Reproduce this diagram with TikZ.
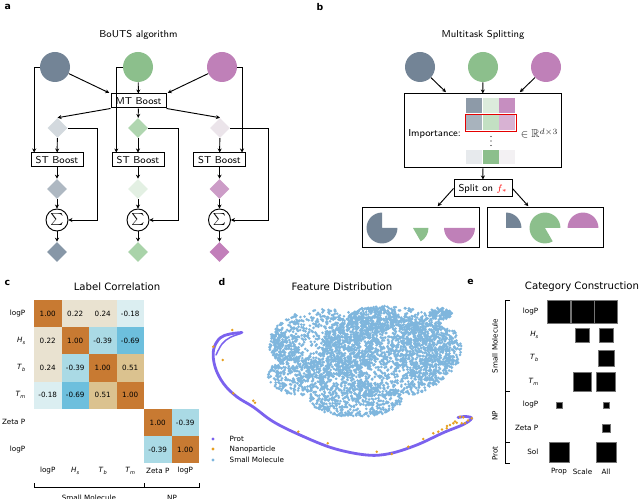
\documentclass[tikz,border=0pt]{standalone}
\usepackage{fontspec}
\usepackage{amssymb}
\usepackage{graphicx}
\usetikzlibrary{arrows.meta,shapes.geometric}
\newfontfamily\dvs{DejaVu Sans}
\definecolor{cslate}{HTML}{738496}
\definecolor{cgreen}{HTML}{8CBF8C}
\definecolor{cpurp}{HTML}{BF80B8}
\definecolor{dsa}{HTML}{D3D9DE}\definecolor{dga}{HTML}{B0D6B0}\definecolor{dpa}{HTML}{EBE4EA}
\definecolor{dsb}{HTML}{AEB8C2}\definecolor{dgb}{HTML}{E3F0E3}\definecolor{dpb}{HTML}{CC9CC7}
\definecolor{dsc}{HTML}{8797A7}\definecolor{dgc}{HTML}{A9D3A9}\definecolor{dpc}{HTML}{C27FBA}
\definecolor{imA}{HTML}{8D9AA8}\definecolor{imB}{HTML}{DCEBDC}\definecolor{imC}{HTML}{C68EC0}
\definecolor{imD}{HTML}{A8B3BD}\definecolor{imE}{HTML}{C3E0C3}\definecolor{imF}{HTML}{D8B2D3}
\definecolor{imG}{HTML}{E7EAED}\definecolor{imH}{HTML}{8CBF8C}\definecolor{imI}{HTML}{F3F1F3}
\definecolor{hmA}{HTML}{C87A32}
\definecolor{hmB}{HTML}{E9E2D0}
\definecolor{hmC}{HTML}{DBEEF1}
\definecolor{hmD}{HTML}{AADAE5}
\definecolor{hmE}{HTML}{6DBFDD}
\definecolor{hmF}{HTML}{DBC28F}
\definecolor{cprot}{HTML}{7B62EE}
\definecolor{cnano}{HTML}{E6A020}
\definecolor{csm}{HTML}{7FB6DD}
\newcommand\lab[2]{\textit{#1}\raisebox{-0.25em}{\scalebox{0.7}{\textit{#2}}}}
\begin{document}
\begin{tikzpicture}[x=0.75pt,y=-0.75pt,
  ab/.style={font=\sffamily\fontsize{7.5}{9}\selectfont},
  box/.style={draw, line width=0.75pt, inner sep=0pt, ab},
  arr/.style={-{Stealth[length=3pt,width=3pt]}, line width=0.7pt},
  ln/.style={line width=0.7pt},
  dia/.style={diamond, inner sep=0pt, minimum width=15pt, minimum height=15pt},
  sig/.style={circle, draw, line width=0.7pt, minimum size=16.5pt, inner sep=0pt, font=\fontsize{9}{10}\selectfont},
  task/.style={circle, inner sep=0pt, minimum size=22.5pt},
  plab/.style={font=\dvs\bfseries\fontsize{7}{8}\selectfont},
  mtitle/.style={font=\dvs\fontsize{7.6}{9}\selectfont},
  tick/.style={font=\dvs\fontsize{5.4}{6}\selectfont},
  cell/.style={minimum width=20.625pt, minimum height=20.4pt, inner sep=0pt, font=\dvs\fontsize{5.4}{6}\selectfont},
  hsq/.style={fill=black, draw=black!55, line width=0.5pt, inner sep=0pt}
]
\useasboundingbox (0,0) rectangle (640,499);

% ---------------- panel a ----------------
\node[plab, anchor=west] (la) at (0,7) {a};
\node[ab] (ta) at (138.5,35) {BoUTS algorithm};
\node[task, fill=cslate] (a1) at (55,67) {};
\node[task, fill=cgreen] (a2) at (138,67) {};
\node[task, fill=cpurp] (a3) at (222,67) {};
\node[box, minimum width=41.25pt, minimum height=10.5pt] (mt) at (138.5,101) {MT Boost};
\node[dia, fill=dsa] (d11) at (57.5,128) {};
\node[dia, fill=dga] (d12) at (138,128) {};
\node[dia, fill=dpa] (d13) at (220,128) {};
\node[box, minimum width=39pt, minimum height=10.5pt] (s1) at (57,160) {ST Boost};
\node[box, minimum width=39pt, minimum height=10.5pt] (s2) at (138,160) {ST Boost};
\node[box, minimum width=39pt, minimum height=10.5pt] (s3) at (219.5,160) {ST Boost};
\node[dia, fill=dsb] (d21) at (57,189) {};
\node[dia, fill=dgb] (d22) at (138,189) {};
\node[dia, fill=dpb] (d23) at (219.5,189) {};
\node[sig] (g1) at (57,220) {$\sum$};
\node[sig] (g2) at (138,220) {$\sum$};
\node[sig] (g3) at (219.5,220) {$\sum$};
\node[dia, fill=dsc] (d31) at (57,252) {};
\node[dia, fill=dgc] (d32) at (138,252) {};
\node[dia, fill=dpc] (d33) at (219.5,252) {};

\draw[arr, shorten >=1pt] (a1) -- (mt.north west);
\draw[arr] (a2) -- (mt);
\draw[arr, shorten >=1pt] (a3) -- (mt.north east);
\draw[arr] (mt.south west) -- (d11.north);
\draw[arr] (mt) -- (d12);
\draw[arr] (mt.south east) -- (d13.north);
\draw[arr] (a1.west) -| ([xshift=2.8pt]s1.north west);
\draw[arr] (a2.west) -| ([xshift=3.6pt]s2.north west);
\draw[arr] (a3.east) -| ([xshift=-3pt]s3.north east);
\foreach \i/\dx in {1/29.5,2/30,3/38.5}{
  \draw[arr] (d1\i) -- (s\i);
  \draw[arr] (s\i) -- (d2\i);
  \draw[arr] (d2\i) -- (g\i);
  \draw[arr] (g\i) -- (d3\i);
  \draw[arr] (d1\i.east) -- ++(\dx,0) |- (g\i.east);
}

% ---------------- panel b ----------------
\node[plab] (lb0) at (320,7) {b};
\node[ab] (tb) at (483,35) {Multitask Splitting};
\node[task, fill=cslate] (b1) at (420,67) {};
\node[task, fill=cgreen] (b2) at (483,67) {};
\node[task, fill=cpurp] (b3) at (546,67) {};
\node[box, minimum width=117.75pt, minimum height=55.5pt] (imp) at (482.5,131) {};
\draw[arr] (b1) -- ([xshift=-27.4pt,yshift=1pt]imp.north);
\draw[arr] (b2) -- (imp);
\draw[arr] (b3) -- ([xshift=28pt,yshift=1pt]imp.north);
\node[ab, anchor=west, inner sep=0pt] (implab) at (408,134.5) {Importance:};
\foreach \x/\y/\w/\h/\c in {466/98/16.2/15/imA, 482.6/98/16.2/15/imB, 499.2/98/16.2/15/imC,
  466/115.5/16.2/15/imD, 482.6/115.5/16.2/15/imE, 499.2/115.5/16.2/15/imF,
  466/150.5/16.2/14/imG, 482.6/150.5/16.2/14/imH, 499.2/150.5/16.2/14/imI}{
  \fill[fill=\c] (\x,\y) rectangle ++(\w,\h);
}
\draw[red!90!black, line width=0.8pt] (465.3,114.2) rectangle (516.2,131.3);
\foreach \y in {136.5,141,145.5}{\fill[black] (491,\y) circle[radius=0.55pt];}
\node[text=black!85, anchor=west, inner sep=0pt, font=\fontsize{8.5}{9}\selectfont] (rdim) at (520.5,133.5) {$\in\mathbb{R}^{d\times 3}$};
\node[box, minimum width=43.5pt, minimum height=12.75pt] (split) at (483,188.5) {Split on \textcolor{red}{$f_*$}};
\draw[arr] (imp) -- (split);
\node[box, minimum width=87.75pt, minimum height=30pt] (lbx) at (420.5,228) {};
\node[box, minimum width=87pt, minimum height=30pt] (rbx) at (545,228) {};
\draw[arr] (split.west) -- ([xshift=12.9pt,yshift=1pt]lbx.north);
\draw[arr] (split.east) -- ([xshift=-12.5pt,yshift=1pt]rbx.north);
% pies
\fill[cslate] (382,228) -- ++(90:11.6pt) arc[start angle=90,end angle=360,radius=11.6pt] -- cycle;
\fill[cgreen] (413,228) -- ++(-60:11.6pt) arc[start angle=-60,end angle=0,radius=11.6pt] -- cycle;
\fill[cpurp] (459.5,228) -- ++(180:11.6pt) arc[start angle=180,end angle=360,radius=11.6pt] -- cycle;
\fill[cslate] (506,228) -- ++(0:11.6pt) arc[start angle=0,end angle=90,radius=11.6pt] -- cycle;
\fill[cgreen] (545,228) -- ++(0:11.6pt) arc[start angle=0,end angle=300,radius=11.6pt] -- cycle;
\fill[cpurp] (583,228) -- ++(0:11.6pt) arc[start angle=0,end angle=180,radius=11.6pt] -- cycle;

% ---------------- panel c ----------------
\node[plab, anchor=west] (lc) at (0,283) {c};
\node[mtitle] (tc) at (117,287) {Label Correlation};
\foreach \r/\c/\v/\col in {0/0/1.00/hmA,0/1/0.22/hmB,0/2/0.24/hmB,0/3/-0.18/hmC,
  1/0/0.22/hmB,1/1/1.00/hmA,1/2/-0.39/hmD,1/3/-0.69/hmE,
  2/0/0.24/hmB,2/1/-0.39/hmD,2/2/1.00/hmA,2/3/0.51/hmF,
  3/0/-0.18/hmC,3/1/-0.69/hmE,3/2/0.51/hmF,3/3/1.00/hmA,
  4/4/1.00/hmA,4/5/-0.39/hmD,5/4/-0.39/hmD,5/5/1.00/hmA}{
  \node[cell, fill=\col] (hm\r\c) at ({47.75+27.5*\c},{313.6+27.2*\r}) {\v};
}
\foreach \i/\t in {0/logP,1/\lab{H}{s},2/\lab{T}{b},3/\lab{T}{m},4/Zeta P,5/logP}{
  \node[tick, anchor=east] (rl\i) at (30,{313.6+27.2*\i}) {\t};
  \node[tick] (cl\i) at ({47.75+27.5*\i},471) {\t};
}
\draw[ln] (34,483) -- (34,487) -- (199,487) -- (199,483);
\draw[ln] (144,483) -- (144,487);
\node[tick, anchor=north] (smc) at (89,490.5) {Small Molecule};
\node[tick, anchor=north] (npc) at (172,490.5) {NP};

% ---------------- panel d ----------------
\node[plab] (ld) at (222,282) {d};
\node[mtitle] (td) at (342,287) {Feature Distribution};
\pgfmathsetseed{4242}
\foreach \cx/\cy/\rx/\ry/\n in {325/343/56/34/850, 388/352/68/46/1500, 428/350/34/30/450,
  356/399/46/18/500, 300/376/32/20/350, 440/314/12/6/110, 372/320/24/13/230, 283/345/14/16/130,
  408/325/18/10/120}{
  \fill[csm] \foreach \k in {1,...,\n}{
    [/utils/exec={\pgfmathsetmacro\ang{360*rnd}\pgfmathsetmacro\rr{sqrt(rnd)}}]
    ({\cx+\rx*\rr*cos(\ang)},{\cy+\ry*\rr*sin(\ang)}) circle[radius=1.1pt]
  };
}
\draw[cprot, line width=2.1pt, line cap=round] plot[smooth, tension=0.6] coordinates {
  (242,332.5) (230,334) (220,338) (213.5,350) (215,366.7) (223.3,383.3) (236.7,396.7)
  (253.3,407) (273.3,421.7) (300,435) (333.3,448.3) (366.7,455) (390,453.5)
  (416.7,445) (443.3,432.7) (463.3,424.5) (471.5,418.5) (466,416.5) (458,417.5)};
\draw[cprot, line width=1.1pt, line cap=round] plot[smooth, tension=0.6] coordinates {
  (241,333.5) (230,337.5) (222,344) (216,355)};
\foreach \x/\y in {232.3/330,213.3/346.7,222.7/360,233.3/393.3,253.3/400.7,255/402.7,
  298.3/431.7,327.7/443.3,376.7/451.7,391.7/454,408.3/446.7,423.3/439,433.3/433.3,
  438.3/431.7,446.7/428.3,450/425,453.3/423.3,456.7/422.7,461.7/423.3,465/423.3,
  460/416.7,463.3/417.3,471.7/418.3,468/420.5,455/421.5,447/426,442/429.5}{
  \fill[cnano] (\x,\y) circle[radius=1.05pt];
}
\fill[cprot] (213,439) circle[radius=1.3pt];
\fill[cnano] (213,449) circle[radius=1.3pt];
\fill[csm] (213,460) circle[radius=1.3pt];
\node[tick, anchor=west] (lg1) at (225,439) {Prot};
\node[tick, anchor=west] (lg2) at (225,449.5) {Nanoparticle};
\node[tick, anchor=west] (lg3) at (225,460) {Small Molecule};

% ---------------- panel e ----------------
\node[plab] (le) at (470.5,282) {e};
\node[mtitle] (te) at (582,287) {Category Construction};
\foreach \x/\y/\s/\nm in {559/312/17/q1,582.5/312/17/q2,606/312/17/q3,
  582.5/335/10.5/q4,606/335/10.5/q5,
  606/358/11.8/q6,
  582.5/382/13.8/q7,606/382/14/q8,
  559/405/4.6/q9,606/405/4.6/q10,
  606/428/6/q11,
  559/452/15/q12,606/452/15/q13}{
  \node[hsq, minimum size=\s pt] (\nm) at (\x,\y) {};
}
\foreach \i/\y/\t in {0/312/logP,1/335/\lab{H}{s},2/358/\lab{T}{b},3/382/\lab{T}{m},4/405/logP,5/428/Zeta P,6/452/Sol}{
  \node[tick, anchor=east] (er\i) at (543,\y) {\t};
}
\node[tick] (ec1) at (559,472) {Prop};
\node[tick] (ec2) at (582.5,472) {Scale};
\node[tick] (ec3) at (606,472) {All};
\draw[ln] (510,300) -- (505,300) -- (505,463.3) -- (510,463.3);
\draw[ln] (505,391.7) -- (510,391.7);
\draw[ln] (505,442.7) -- (510,442.7);
\node[tick, rotate=90] (eg1) at (495,346) {Small Molecule};
\node[tick, rotate=90] (eg2) at (495,416) {NP};
\node[tick, rotate=90] (eg3) at (495,453.5) {Prot};
\end{tikzpicture}
\end{document}
